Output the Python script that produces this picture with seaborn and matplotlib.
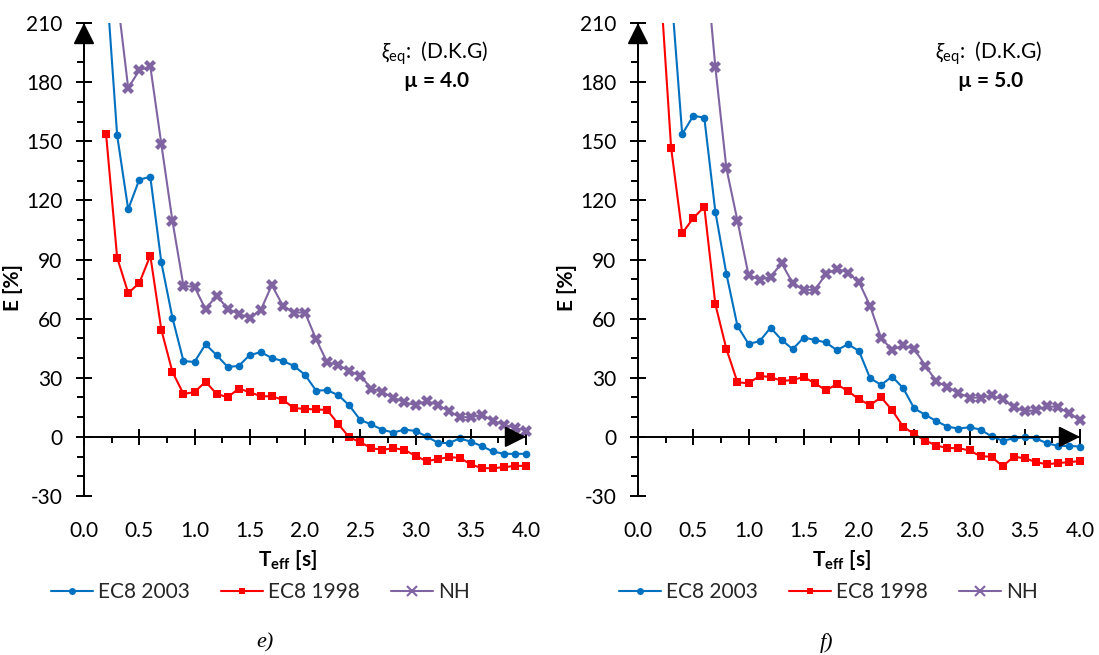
import matplotlib
matplotlib.use("Agg")
import matplotlib.pyplot as plt
from matplotlib.ticker import MultipleLocator, FormatStrFormatter
import numpy as np
import pandas as pd
import seaborn as sns

# ---------------- data ----------------
T_ALL = [0.2, 0.3, 0.4, 0.5, 0.6, 0.7, 0.8, 0.9, 1.0, 1.1, 1.2, 1.3, 1.4,
         1.5, 1.6, 1.7, 1.8, 1.9, 2.0, 2.1, 2.2, 2.3, 2.4, 2.5, 2.6, 2.7,
         2.8, 2.9, 3.0, 3.1, 3.2, 3.3, 3.4, 3.5, 3.6, 3.7, 3.8, 3.9, 4.0]

# panel e)  mu = 4.0
E_EC8_2003 = [233, 153, 115.5, 130.5, 132, 88.5, 60.5, 38.5, 38, 47, 41.5, 35.5, 36,
              41.5, 43, 40, 38.5, 36, 31.5, 23.5, 23.7, 21.2, 16, 8.6, 6.3, 3.6,
              2.2, 3.7, 3.0, 0.2, -2.9, -3.2, -0.8, -2.4, -4.7, -7.4, -8.6, -8.6, -8.6]
E_EC8_1998 = [153.5, 91, 73, 78, 92, 54.3, 33, 21.8, 22.7, 28, 21.8, 20.1, 24.5,
              22.7, 20.6, 20.6, 18.8, 14.6, 14.2, 13.9, 13.7, 6.6, -0.2, -2.7, -5.7, -6.6,
              -5.7, -6.6, -9.6, -12.3, -11.3, -10.3, -10.6, -13.9, -15.9, -15.9, -15.4, -14.7, -14.7]
E_NH = [330, 224, 177, 186, 188, 148.5, 109.7, 76.6, 76.1, 64.8, 71.7, 65.1, 62.4,
        60.4, 64.4, 77.0, 66.5, 63.1, 63.1, 49.6, 37.9, 36.5, 33.5, 31.1, 24.5, 22.7,
        19.9, 17.6, 16.1, 18.3, 16.2, 13.2, 10.0, 10.0, 11.2, 8.3, 6.1, 4.6, 3.2]

# panel f)  mu = 5.0
F_EC8_2003 = [300, 227, 153.6, 162.9, 162.0, 114.2, 82.7, 56.3, 47.2, 48.5, 55.4, 49.2, 44.5,
              50.4, 49.2, 47.9, 44.0, 47.0, 43.6, 29.8, 26.4, 30.6, 24.7, 14.4, 11.2, 8.0,
              5.2, 4.2, 4.9, 3.7, 0.2, -1.9, -0.8, -0.2, -0.8, -3.2, -4.6, -4.6, -4.9]
F_EC8_1998 = [232, 146.5, 103.3, 111.0, 116.7, 67.3, 44.6, 27.7, 27.2, 30.9, 30.4, 28.4, 28.8,
              30.4, 27.2, 23.7, 26.7, 23.2, 19.1, 16.1, 20.1, 13.5, 5.2, 1.4, -1.9, -4.4,
              -5.7, -5.7, -6.9, -9.8, -10.1, -14.9, -10.1, -10.8, -12.8, -13.9, -13.3, -12.8, -12.3]
F_NH_T = T_ALL[4:]
F_NH = [250, 187.6, 136.3, 109.7, 82.2, 79.7, 81.2, 88.1, 78.0,
        74.6, 74.6, 82.5, 85.4, 83.4, 78.5, 66.5, 50.2, 44.1, 46.5, 44.5, 36.2, 28.1,
        25.4, 22.3, 19.9, 19.9, 21.0, 19.1, 15.2, 13.0, 13.5, 15.6, 15.1, 12.0, 8.6]

SERIES = ["EC8 2003", "EC8 1998", "NH"]
COLORS = {"EC8 2003": "#0070C0", "EC8 1998": "#FF0000", "NH": "#8064A2"}
MARKERS = {"EC8 2003": "o", "EC8 1998": "s", "NH": "X"}
MU_LABELS = ["\u00b5 = 4.0", "\u00b5 = 5.0"]
CAPTIONS = ["e)", "f)"]
X_TICKS = [0.0, 0.5, 1.0, 1.5, 2.0, 2.5, 3.0, 3.5, 4.0]
Y_TICKS = [-30, 0, 30, 60, 90, 120, 150, 180, 210]


def frame(pairs):
    rows = []
    for name, (ts, vs) in zip(SERIES, pairs):
        for t, v in zip(ts, vs):
            rows.append({"T": t, "E": v, "series": name})
    return pd.DataFrame(rows)


df_e = frame([(T_ALL, E_EC8_2003), (T_ALL, E_EC8_1998), (T_ALL, E_NH)])
df_f = frame([(T_ALL, F_EC8_2003), (T_ALL, F_EC8_1998), (F_NH_T, F_NH)])

# ---------------- style ----------------
sns.set_theme(style="white")
plt.rcParams["font.family"] = ["Lato", "DejaVu Sans"]
plt.rcParams["axes.unicode_minus"] = False
plt.rcParams["mathtext.fontset"] = "custom"
plt.rcParams["mathtext.rm"] = "Lato"
plt.rcParams["mathtext.it"] = "Lato:italic"
plt.rcParams["mathtext.bf"] = "Lato:bold"

FS = 15
W, H = 1099, 655
fig = plt.figure(figsize=(W / 100, H / 100), dpi=100)

XMAX = 4.1
px_per_unit = 442 / 4.0
ax_w = px_per_unit * XMAX
lefts = [84, 638]
for i, (df, left) in enumerate(zip([df_e, df_f], lefts)):
    ax = fig.add_axes([left / W, (H - 496) / H, ax_w / W, 473 / H])
    sns.lineplot(data=df, x="T", y="E", hue="series", style="series",
                 hue_order=SERIES, style_order=SERIES, palette=COLORS,
                 markers=MARKERS, dashes=False, linewidth=1.5, markersize=6,
                 markeredgewidth=0, sort=False, ax=ax)
    for ln in ax.lines:
        m = ln.get_marker()
        if m in ("o", "s"):
            ln.set_markersize(5.5)
        elif m == "X":
            ln.set_markersize(8.5)

    ax.set_xlim(0, XMAX)
    ax.set_ylim(-30, 210)
    for s in ["top", "right"]:
        ax.spines[s].set_visible(False)
    ax.spines["left"].set_linewidth(1.4)
    ax.spines["left"].set_color("black")
    ax.spines["bottom"].set_position(("data", 0))
    ax.spines["bottom"].set_bounds(0, 4.0)
    ax.spines["bottom"].set_linewidth(1.4)
    ax.spines["bottom"].set_color("black")

    ax.set_xticks(X_TICKS)
    ax.xaxis.set_minor_locator(MultipleLocator(0.25))
    ax.set_yticks(Y_TICKS)
    ax.yaxis.set_minor_locator(MultipleLocator(10))
    ax.xaxis.set_major_formatter(FormatStrFormatter("%.1f"))
    ax.yaxis.set_major_formatter(FormatStrFormatter("%d"))
    ax.tick_params(axis="x", which="major", direction="inout", length=11,
                   width=1.4, color="black", pad=55, labelsize=FS, labelcolor="black",
                   bottom=True)
    ax.tick_params(axis="x", which="minor", direction="out", length=4,
                   width=1.4, color="black", bottom=True)
    ax.tick_params(axis="y", which="major", direction="inout", length=11,
                   width=1.4, color="black", pad=10, labelsize=FS, labelcolor="black",
                   left=True)
    ax.tick_params(axis="y", which="minor", direction="out", length=5,
                   width=1.4, color="black", left=True)
    ax.grid(False)

    # axis arrows
    ax.annotate("", xy=(0, 210), xytext=(0, 190),
                arrowprops=dict(arrowstyle="-|>,head_length=13,head_width=6.5",
                                mutation_scale=1, color="black", lw=1.4,
                                shrinkA=0, shrinkB=0),
                annotation_clip=False)
    ax.annotate("", xy=(4.0, 0), xytext=(3.8, 0),
                arrowprops=dict(arrowstyle="-|>,head_length=13,head_width=6.5",
                                mutation_scale=1, color="black", lw=1.4,
                                shrinkA=0, shrinkB=0),
                annotation_clip=False)

    ax.set_ylabel("E [%]", fontsize=FS, fontweight="bold", color="black")
    ax.yaxis.set_label_coords(-0.135, 0.44)
    ax.set_xlabel(r"$\mathbf{T_{eff}}$ [s]", fontsize=FS, fontweight="bold",
                  color="black")
    ax.xaxis.set_label_coords(0.45, -0.11)

    ax.text(0.774, 0.937, r"$\xi_{\mathrm{eq}}$:  (D.K.G)", transform=ax.transAxes,
            ha="center", va="center", fontsize=FS, color="black")
    ax.text(0.779, 0.877, MU_LABELS[i], transform=ax.transAxes,
            ha="center", va="center", fontsize=FS, fontweight="bold", color="black")

    leg = ax.get_legend()
    handles = list(leg.legend_handles)
    labels = [t.get_text() for t in leg.get_texts()]
    leg.remove()
    for h in handles:
        h.set_linewidth(1.5)
        mk = h.get_marker()
        if mk == "X":
            h.set_marker("x")
            h.set_markersize(7)
            h.set_markeredgewidth(1.5)
            h.set_markeredgecolor(COLORS["NH"])
        else:
            h.set_markersize(5)
    lx = 0.389 if i == 0 else 0.42
    ax.legend(handles, labels, loc="center", bbox_to_anchor=(lx, -0.203), ncol=3,
              frameon=False, handlelength=2.0, handletextpad=0.25,
              columnspacing=1.5, fontsize=FS, borderaxespad=0)

    cx = [265, 827][i]
    fig.text(cx / W, 1 - 643 / H, CAPTIONS[i], family="Liberation Serif",
             style="italic", fontsize=16, ha="center", va="center", color="black")

fig.savefig("out.png", dpi=100)
